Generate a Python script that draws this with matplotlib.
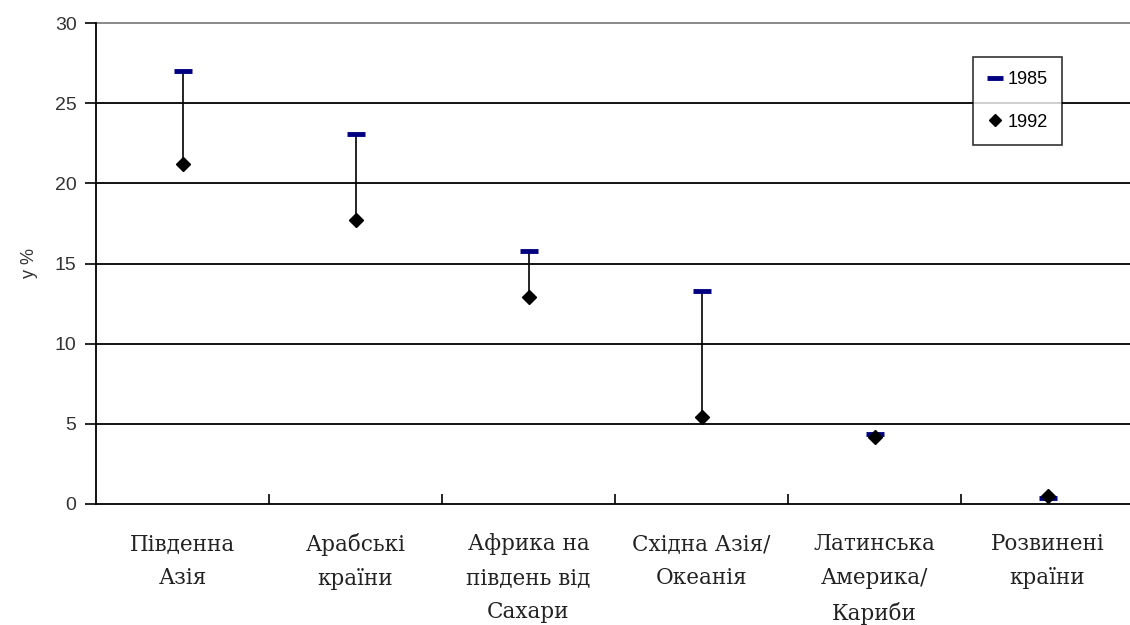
import matplotlib
matplotlib.use("Agg")
import matplotlib.pyplot as plt
from matplotlib.lines import Line2D

categories = ["Південна\nАзія", "Арабські\nкраїни", "Африка на\nпівдень від\nСахари",
              "Східна Азія/\nОкеанія", "Латинська\nАмерика/\nКариби", "Розвинені\nкраїни"]
v1985 = [27.0, 23.1, 15.8, 13.3, 4.35, 0.35]
v1992 = [21.2, 17.7, 12.9, 5.4, 4.2, 0.5]
yticks = [0, 5, 10, 15, 20, 25, 30]
ylabel = "у %"

fig = plt.figure(figsize=(11.3, 6.25), dpi=100)
ax = fig.add_axes([96/1130, 1-504/625, 1038/1130, 481/625])

x = list(range(len(categories)))
ax.set_xlim(-0.5, len(categories) - 0.5)
ax.set_ylim(0, 30)

for yt in yticks[1:]:
    ax.axhline(yt, color="#808080" if yt == 30 else "black", lw=1.3, zorder=1, clip_on=False)

ax.vlines(x, v1992, v1985, color="black", lw=1.2, zorder=2)
ax.plot(x, v1985, linestyle="none", marker="_", ms=13, mew=3.5, color="#000080", zorder=3)
ax.plot(x, v1992, linestyle="none", marker="D", ms=7.5, color="black", zorder=4)

for s in ["top", "right"]:
    ax.spines[s].set_visible(False)
ax.spines["left"].set_linewidth(1.3)
ax.spines["bottom"].set_linewidth(1.3)

ax.set_yticks(yticks)
ax.set_yticklabels([str(v) for v in yticks], fontsize=14, family="Liberation Sans", color="#333333")
ax.tick_params(axis="y", direction="out", length=8, width=1.2, pad=6)

ax.set_xticks([i + 0.5 for i in x[:-1]])
ax.set_xticklabels([])
ax.tick_params(axis="x", direction="in", length=7, width=1.2)
for i, c in enumerate(categories):
    ax.text(i, -1.8, c, ha="center", va="top", fontsize=15.5, family="DejaVu Serif",
            linespacing=1.72, color="#222222", transform=ax.transData)

ax.set_ylabel(ylabel, fontsize=13, family="Liberation Sans", labelpad=12, color="#333333")

handles = [Line2D([], [], linestyle="none", marker="_", ms=12, mew=3.5, color="#000080"),
           Line2D([], [], linestyle="none", marker="D", ms=6, color="black")]
leg = ax.legend(handles, ["1985", "1992"], loc="upper left", bbox_to_anchor=(973/1130, 1-57/625),
                bbox_transform=fig.transFigure, frameon=True, fancybox=False, shadow=False,
                prop={"family": "Liberation Sans", "size": 13}, handlelength=0.8,
                handletextpad=0.3, labelspacing=1.4, borderpad=0.8, borderaxespad=0)
leg.get_frame().set_edgecolor("black")
leg.get_frame().set_linewidth(1.2)

fig.savefig("out.png", dpi=100)
